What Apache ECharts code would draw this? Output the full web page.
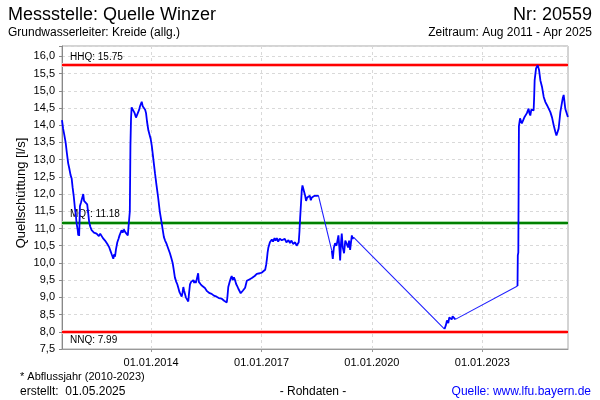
<!DOCTYPE html>
<html>
<head>
<meta charset="utf-8">
<script src="https://cdn.jsdelivr.net/npm/echarts@6/dist/echarts.min.js"></script>
<style>html,body{margin:0;padding:0;background:#fff}#c{width:600px;height:400px}</style>
</head>
<body>
<div id="c"></div>
<script>
const dates = [
'2011-08-01','2011-08-12','2011-08-22','2011-09-06','2011-09-18','2011-10-01','2011-10-12','2011-10-25','2011-11-05','2011-11-14',
'2011-11-25','2011-12-07','2011-12-16','2011-12-24','2012-01-04','2012-01-09','2012-01-14','2012-01-18','2012-01-22','2012-01-26',
'2012-02-05','2012-02-14','2012-02-22','2012-02-28','2012-03-07','2012-03-15','2012-03-25','2012-04-07','2012-04-17','2012-04-27',
'2012-05-08','2012-05-21','2012-06-02','2012-06-13','2012-06-25','2012-07-09','2012-07-20','2012-08-01','2012-08-14','2012-08-28',
'2012-09-10','2012-09-20','2012-10-01','2012-10-10','2012-10-24','2012-11-05','2012-11-12','2012-11-24','2012-12-06','2012-12-14',
'2012-12-22','2013-01-01','2013-01-08','2013-01-18','2013-01-31','2013-02-12','2013-02-22','2013-03-05','2013-03-14','2013-03-25',
'2013-04-06','2013-04-18','2013-05-03','2013-05-15','2013-05-29','2013-06-04','2013-06-10','2013-06-16','2013-06-22','2013-07-08',
'2013-07-22','2013-08-04','2013-08-15','2013-08-26','2013-09-05','2013-09-13','2013-09-22','2013-09-30','2013-10-10','2013-10-23',
'2013-11-03','2013-11-12','2013-11-22','2013-12-05','2013-12-15','2013-12-28','2014-01-08','2014-01-18','2014-01-28','2014-02-09',
'2014-02-24','2014-03-12','2014-03-28','2014-04-15','2014-04-27','2014-05-08','2014-05-20','2014-06-04','2014-06-20','2014-07-07',
'2014-07-20','2014-08-03','2014-08-14','2014-08-25','2014-09-08','2014-09-18','2014-09-28','2014-10-10','2014-10-20','2014-11-01',
'2014-11-10','2014-11-17','2014-11-24','2014-12-05','2014-12-12','2014-12-20','2014-12-28','2015-01-05','2015-01-12','2015-01-22',
'2015-02-02','2015-02-12','2015-02-24','2015-03-05','2015-03-12','2015-03-20','2015-03-28','2015-04-06','2015-04-13','2015-04-20',
'2015-04-29','2015-05-08','2015-05-16','2015-05-28','2015-06-08','2015-06-19','2015-07-01','2015-07-10','2015-07-22','2015-08-05',
'2015-08-15','2015-08-25','2015-09-05','2015-09-16','2015-09-30','2015-10-13','2015-10-25','2015-11-04','2015-11-18','2015-12-03',
'2015-12-15','2015-12-27','2016-01-08','2016-01-22','2016-01-28','2016-02-06','2016-02-20','2016-03-01','2016-03-11','2016-03-22',
'2016-04-02','2016-04-13','2016-04-25','2016-05-06','2016-05-16','2016-05-28','2016-06-08','2016-06-19','2016-07-01','2016-07-12',
'2016-07-22','2016-08-08','2016-08-20','2016-09-02','2016-09-15','2016-09-27','2016-10-10','2016-10-25','2016-11-05','2016-11-15',
'2016-11-30','2016-12-15','2017-01-04','2017-01-20','2017-02-06','2017-02-16','2017-02-23','2017-03-02','2017-03-10','2017-03-25',
'2017-04-13','2017-04-25','2017-05-10','2017-05-20','2017-06-02','2017-06-15','2017-07-01','2017-07-21','2017-08-05','2017-08-20',
'2017-09-05','2017-09-25','2017-10-10','2017-10-25','2017-11-10','2017-11-30','2017-12-15','2017-12-27','2018-01-05','2018-01-12',
'2018-01-19','2018-01-26','2018-02-04','2018-02-11','2018-02-20','2018-02-28','2018-03-10','2018-03-19','2018-03-30','2018-04-11',
'2018-04-25','2018-05-05','2018-05-15','2018-05-30','2018-06-12','2018-06-27','2018-07-10','2018-07-19','2018-11-29','2018-12-09',
'2018-12-20','2019-01-01','2019-01-15','2019-02-03','2019-02-12','2019-02-20','2019-03-01','2019-03-08','2019-03-18','2019-03-31',
'2019-04-12','2019-04-27','2019-05-10','2019-05-20','2019-05-30','2019-06-08','2019-06-16','2019-06-24','2019-07-02','2021-12-22',
'2022-01-05','2022-01-15','2022-01-28','2022-02-07','2022-02-17','2022-03-03','2022-03-12','2022-03-22','2022-04-08','2023-12-16',
'2023-12-19','2023-12-24','2023-12-30','2024-01-10','2024-01-19','2024-01-28','2024-02-08','2024-02-24','2024-03-05','2024-03-18',
'2024-04-04','2024-04-12','2024-04-21','2024-05-01','2024-05-08','2024-05-24','2024-05-29','2024-06-03','2024-06-17','2024-07-03',
'2024-07-17','2024-07-30','2024-08-16','2024-09-01','2024-09-18','2024-10-04','2024-10-20','2024-11-06','2024-11-23','2024-12-09',
'2024-12-26','2025-01-05','2025-01-11','2025-01-20','2025-01-27','2025-02-05','2025-02-13','2025-03-02','2025-03-10','2025-03-18',
'2025-04-03','2025-04-19','2025-04-29'
];
const flow = [
14.15,13.9,13.75,13.5,13.2,12.9,12.75,12.55,12.45,12.2,
11.95,11.6,11.4,11.15,10.95,10.8,11.0,10.78,11.2,11.65,
11.75,11.85,11.8,12.0,11.8,11.75,11.85,11.7,11.45,11.18,
11.05,10.95,11.0,10.88,10.92,10.85,10.9,10.78,10.85,10.8,
10.72,10.75,10.65,10.7,10.55,10.55,10.45,10.35,10.25,10.2,
10.12,10.25,10.18,10.4,10.6,10.7,10.8,10.85,10.95,10.88,
10.97,10.9,10.85,10.8,10.78,11.5,13.4,14.2,14.52,14.48,
14.35,14.22,14.3,14.38,14.45,14.55,14.5,14.68,14.55,14.55,
14.45,14.35,14.1,13.85,13.8,13.6,13.4,13.15,12.9,12.6,
12.25,11.9,11.5,11.18,10.95,10.75,10.65,10.55,10.42,10.28,
10.15,10.0,9.8,9.58,9.45,9.38,9.28,9.15,9.1,9.02,
9.15,9.3,9.2,9.15,9.0,9.05,8.95,8.88,9.1,9.38,
9.45,9.4,9.5,9.42,9.48,9.42,9.5,9.45,9.7,9.45,
9.42,9.38,9.43,9.32,9.35,9.27,9.25,9.18,9.2,9.12,
9.15,9.1,9.12,9.05,9.08,9.02,9.05,8.98,9.02,8.96,
8.98,8.9,8.95,8.85,9.0,9.3,9.45,9.55,9.62,9.5,
9.58,9.5,9.38,9.32,9.25,9.2,9.12,9.15,9.2,9.18,
9.28,9.48,9.45,9.52,9.48,9.56,9.55,9.62,9.6,9.68,
9.65,9.7,9.72,9.75,9.8,9.95,10.1,10.3,10.45,10.6,
10.68,10.62,10.72,10.65,10.72,10.62,10.7,10.66,10.62,10.7,
10.6,10.66,10.58,10.65,10.55,10.6,10.5,10.45,10.6,10.9,
11.3,11.65,12.1,12.25,12.28,12.22,11.95,11.8,11.9,11.85,
11.95,11.82,11.9,11.88,11.95,12.0,11.95,11.96,10.36,10.12,
10.45,10.57,10.5,10.8,10.45,10.07,10.6,10.85,10.45,10.28,
10.65,10.55,10.45,10.65,10.38,10.6,10.8,10.7,10.75,8.08,
8.2,8.33,8.25,8.42,8.47,8.36,8.45,8.44,8.36,9.33,
10.22,10.3,13.97,14.2,14.19,14.05,14.1,14.24,14.2,14.35,
14.48,14.35,14.28,14.45,14.42,14.43,14.8,15.3,15.65,15.74,
15.6,15.3,15.1,14.82,14.67,14.58,14.56,14.38,14.22,14.0,
13.8,13.7,13.66,13.75,13.9,14.15,14.38,14.67,14.8,14.88,
14.48,14.43,14.24
];
const xTickDates = ['2014-01-01','2017-01-01','2020-01-01','2023-01-01'];
const refNames = ['HHQ','MQ*','NNQ'];
const refValues = [15.75, 11.18, 7.99];
const xStart = '2011-08-01', xEnd = '2025-04-30';

const FONT = '"Liberation Sans", Arial, sans-serif';
const chart = echarts.init(document.getElementById('c'), null, {renderer:'canvas'});
const P = s => echarts.time.parse(s).getTime();
const pad = n => (n<10?'0':'')+n;
const fmtDate = v => { const d = new Date(v); return pad(d.getDate())+'.'+pad(d.getMonth()+1)+'.'+d.getFullYear(); };
const GAP = 90*86400000;
const measured = [], bridges = [];
dates.forEach((d,i)=>{
  const t = P(d);
  if (i>0) {
    const tp = P(dates[i-1]);
    if (t-tp > GAP) {
      measured.push([ (t+tp)/2, null ]);
      bridges.push([tp, flow[i-1]], [t, flow[i]], [t, null]);
    }
  }
  measured.push([t, flow[i]]);
});
const tickVals = xTickDates.map(P);
const refColors = ['#ff0000','#008000','#ff0000'];
const refHalo = ['#ffb4b4','#a8dca8','#ffb4b4'];
const refLabelPos = ['insideStartTop','insideStartTop','insideStartBottom'];
const markData = [];
refValues.forEach((v,i)=>{
  markData.push({yAxis:v, lineStyle:{color:refHalo[i], width:4, type:'solid'}, label:{show:false}});
});
refValues.forEach((v,i)=>{
  markData.push({yAxis:v, lineStyle:{color:refColors[i], width:2, type:'solid'},
    label:{show:true, position:refLabelPos[i], formatter: refNames[i]+': '+v, color:'#000', fontSize:10, fontFamily:FONT, distance:[8,3]}});
});

chart.setOption({
  animation:false,
  backgroundColor:'#fff',
  grid:{left:62, right:32, top:46, bottom:51, show:true, borderColor:'#a8a8a8', borderWidth:1, containLabel:false},
  xAxis:{
    type:'value', min:P(xStart), max:P(xEnd),
    axisLine:{show:true, lineStyle:{color:'#999'}},
    axisTick:{show:true, length:3, lineStyle:{color:'#999'}, customValues:tickVals},
    axisLabel:{customValues:tickVals, color:'#000', fontSize:11, fontFamily:FONT, margin:8, formatter:fmtDate},
    splitLine:{show:true, lineStyle:{color:'#d9d9d9', type:[3,3], width:1}}
  },
  yAxis:{
    type:'value', min:7.5, max:16.3, interval:0.5,
    axisLine:{show:true, lineStyle:{color:'#888'}},
    axisTick:{show:true, length:3, lineStyle:{color:'#888'}},
    axisLabel:{color:'#000', fontSize:11, fontFamily:FONT, margin:7,
      formatter:v=> (Math.abs(v*2-Math.round(v*2))<1e-6 ? v.toFixed(1).replace('.',',') : '')},
    splitLine:{show:true, lineStyle:{color:'#d9d9d9', type:[3,3], width:1}}
  },
  series:[{
    type:'line', data:measured, showSymbol:false, symbol:'none', connectNulls:false,
    lineStyle:{color:'#0000ff', width:1.8}, z:4,
    markLine:{silent:true, symbol:['none','none'], animation:false, data:markData, z:2}
  },{
    type:'line', data:bridges, showSymbol:false, symbol:'none', connectNulls:false,
    lineStyle:{color:'#2020ff', width:1.1}, z:3
  }],
  graphic:[
    {type:'text', x:8, y:15, style:{text:'Messstelle: Quelle Winzer', font:'18px '+FONT, fill:'#000', align:'left', verticalAlign:'middle'}},
    {type:'text', x:592, y:15, style:{text:'Nr: 20559', font:'18px '+FONT, fill:'#000', align:'right', verticalAlign:'middle'}},
    {type:'text', x:8, y:33, style:{text:'Grundwasserleiter: Kreide (allg.)', font:'12px '+FONT, fill:'#000', align:'left', verticalAlign:'middle'}},
    {type:'text', x:592, y:33, style:{text:'Zeitraum: Aug 2011 - Apr 2025', font:'12px '+FONT, fill:'#000', align:'right', verticalAlign:'middle'}},
    {type:'text', x:21, y:193, rotation:Math.PI/2, style:{text:'Quellschüttung [l/s]', font:'13px '+FONT, fill:'#000', align:'center', verticalAlign:'middle'}},
    {type:'text', x:20, y:377, style:{text:'* Abflussjahr (2010-2023)', font:'11px '+FONT, fill:'#000', align:'left', verticalAlign:'middle'}},
    {type:'text', x:20, y:392, style:{text:'erstellt:  01.05.2025', font:'12px '+FONT, fill:'#000', align:'left', verticalAlign:'middle'}},
    {type:'text', x:313, y:392, style:{text:'- Rohdaten -', font:'12px '+FONT, fill:'#000', align:'center', verticalAlign:'middle'}},
    {type:'text', x:591, y:392, style:{text:'Quelle: www.lfu.bayern.de', font:'12px '+FONT, fill:'#0000ff', align:'right', verticalAlign:'middle'}}
  ]
});
</script>
</body>
</html>
